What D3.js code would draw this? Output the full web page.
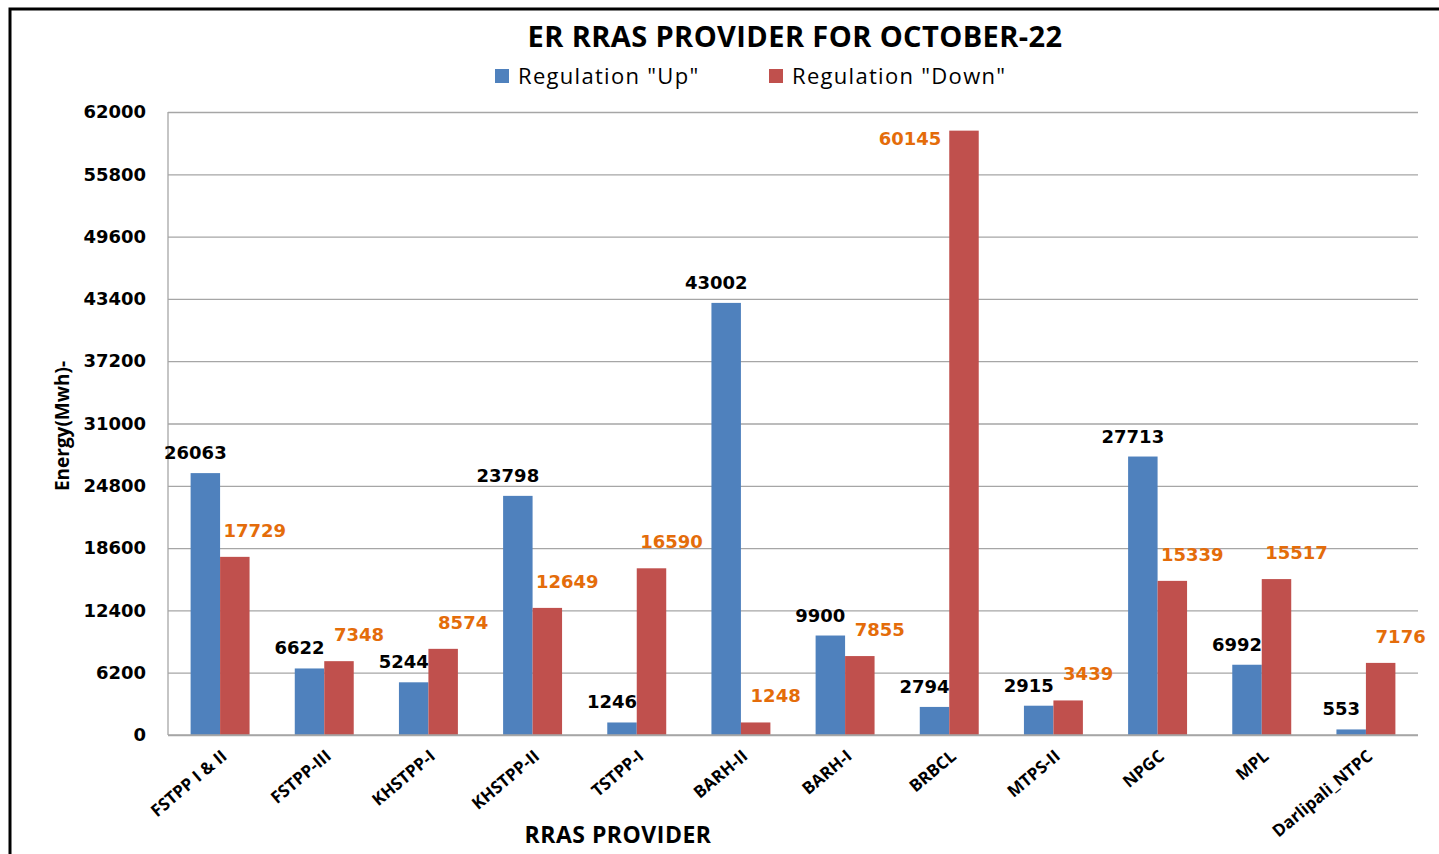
<!DOCTYPE html>
<html>
<head>
<meta charset="utf-8">
<script src="https://cdn.jsdelivr.net/npm/d3@7"></script>
<style>
  body { margin: 0; background: #fff; }
  svg { display: block; }
  .tick-label { font-family: "DejaVu Sans", Verdana, sans-serif; font-weight: bold; font-size: 18px; fill: #000; }
  .cat-label { font-family: "Open Sans", Calibri, sans-serif; font-weight: bold; font-size: 17px; fill: #000; }
  .val-label { font-family: "DejaVu Sans", Verdana, sans-serif; font-weight: bold; font-size: 18px; }
</style>
</head>
<body>
<div id="chart"></div>
<script>
// chart data
const providers = ["FSTPP I & II", "FSTPP-III", "KHSTPP-I", "KHSTPP-II", "TSTPP-I", "BARH-II",
                   "BARH-I", "BRBCL", "MTPS-II", "NPGC", "MPL", "Darlipali_NTPC"];
const regUp = [26063, 6622, 5244, 23798, 1246, 43002, 9900, 2794, 2915, 27713, 6992, 553];
const regDown = [17729, 7348, 8574, 12649, 16590, 1248, 7855, 60145, 3439, 15339, 15517, 7176];
const yTicks = [0, 6200, 12400, 18600, 24800, 31000, 37200, 43400, 49600, 55800, 62000];
const seriesNames = ['Regulation "Up"', 'Regulation "Down"'];

const W = 1439, H = 854;
const margin = { top: 112, right: 21, bottom: 119, left: 168 };
const width = W - margin.left - margin.right;
const height = H - margin.top - margin.bottom;
const color = { up: "#4F81BD", down: "#C0504D" };

const root = d3.select("#chart").append("svg")
    .attr("width", W)
    .attr("height", H);

// outer frame
root.append("rect")
    .attr("x", 10).attr("y", 9)
    .attr("width", W).attr("height", H)
    .attr("fill", "none")
    .attr("stroke", "#000")
    .attr("stroke-width", 3);

const svg = root.append("g")
    .attr("transform", `translate(${margin.left}, ${margin.top})`);

const rows = providers.map((p, i) => ({ name: p, up: regUp[i], down: regDown[i] }));

// scales
const x0 = d3.scaleBand()
    .domain(providers)
    .range([0, width])
    .paddingInner(0.434)
    .paddingOuter(0.217);
const x1 = d3.scaleBand()
    .domain(["up", "down"])
    .range([0, x0.bandwidth()]);
const y = d3.scaleLinear()
    .domain([0, 62000])
    .range([height, 0]);

// horizontal grid
svg.append("g")
    .call(d3.axisLeft(y).tickValues(yTicks).tickSize(-width).tickFormat(""))
    .call(g => g.select(".domain").remove())
    .call(g => g.selectAll("line").attr("stroke", "#a6a6a6").attr("stroke-width", 1.3));

// y axis line + labels
svg.append("line")
    .attr("x1", 0).attr("x2", 0).attr("y1", 0).attr("y2", height)
    .attr("stroke", "#a6a6a6").attr("stroke-width", 1.3);
svg.append("g")
    .call(d3.axisLeft(y).tickValues(yTicks).tickSize(0).tickPadding(22).tickFormat(d3.format("d")))
    .call(g => g.select(".domain").remove())
    .call(g => g.selectAll("text").attr("class", "tick-label"));

// bars
const groups = svg.append("g")
    .selectAll("g")
    .data(rows)
    .join("g")
    .attr("transform", d => `translate(${x0(d.name)}, 0)`);

groups.selectAll("rect")
    .data(d => ["up", "down"].map(k => ({ key: k, value: d[k] })))
    .join("rect")
    .attr("x", d => x1(d.key))
    .attr("y", d => y(d.value))
    .attr("width", x1.bandwidth())
    .attr("height", d => height - y(d.value))
    .attr("fill", d => color[d.key]);

// value labels: above the bar, or beside it if there is no room on top
const noRoom = d => y(d.value) < 30;
groups.selectAll("text")
    .data(d => ["up", "down"].map(k => ({ key: k, value: d[k] })))
    .join("text")
    .attr("class", "val-label")
    .attr("x", d => noRoom(d) ? x1(d.key) - 8
        : x1(d.key) + x1.bandwidth() / 2 + (d.key == "up" ? -10 : 20))
    .attr("y", d => noRoom(d) ? y(d.value) + 14 : y(d.value) - (d.key == "up" ? 14 : 20))
    .attr("text-anchor", d => noRoom(d) ? "end" : "middle")
    .attr("fill", d => d.key == "up" ? "#000" : "#E46C0A")
    .text(d => d.value);

// x axis line + category labels
svg.append("line")
    .attr("x1", 0).attr("x2", width).attr("y1", height).attr("y2", height)
    .attr("stroke", "#a6a6a6").attr("stroke-width", 1.3);
svg.append("g")
    .attr("transform", `translate(0, ${height})`)
    .call(d3.axisBottom(x0).tickSize(0).tickPadding(0))
    .call(g => g.select(".domain").remove())
    .call(g => g.selectAll("text")
        .attr("class", "cat-label")
        .attr("text-anchor", "end")
        .attr("dy", null)
        .attr("transform", "translate(8, 23) rotate(-40)"));

// axis titles
root.append("text")
    .attr("transform", `translate(69, 426) rotate(-90)`)
    .attr("text-anchor", "middle")
    .style("font-family", "Open Sans, Calibri, sans-serif")
    .style("font-weight", "bold")
    .style("font-size", "19px")
    .text("Energy(Mwh)-");

root.append("text")
    .attr("x", 618).attr("y", 843)
    .attr("text-anchor", "middle")
    .style("font-family", "Open Sans, Calibri, sans-serif")
    .style("font-weight", "bold")
    .style("font-size", "23px")
    .style("letter-spacing", "0.5px")
    .text("RRAS PROVIDER");

// title
root.append("text")
    .attr("x", 795).attr("y", 47)
    .attr("text-anchor", "middle")
    .style("font-family", "Open Sans, Calibri, sans-serif")
    .style("font-weight", "bold")
    .style("font-size", "29px")
    .style("letter-spacing", "0.4px")
    .text("ER RRAS PROVIDER FOR OCTOBER-22");

// legend
const legend = root.append("g");
const legendX = [495, 769];
seriesNames.forEach((s, i) => {
    legend.append("rect")
        .attr("x", legendX[i]).attr("y", 69)
        .attr("width", 14).attr("height", 14)
        .attr("fill", i == 0 ? color.up : color.down);
    legend.append("text")
        .attr("x", legendX[i] + 23).attr("y", 84)
        .style("font-family", "Open Sans, Calibri, sans-serif")
        .style("font-size", "22px")
        .style("letter-spacing", "1.3px")
        .text(s);
});
</script>
</body>
</html>
